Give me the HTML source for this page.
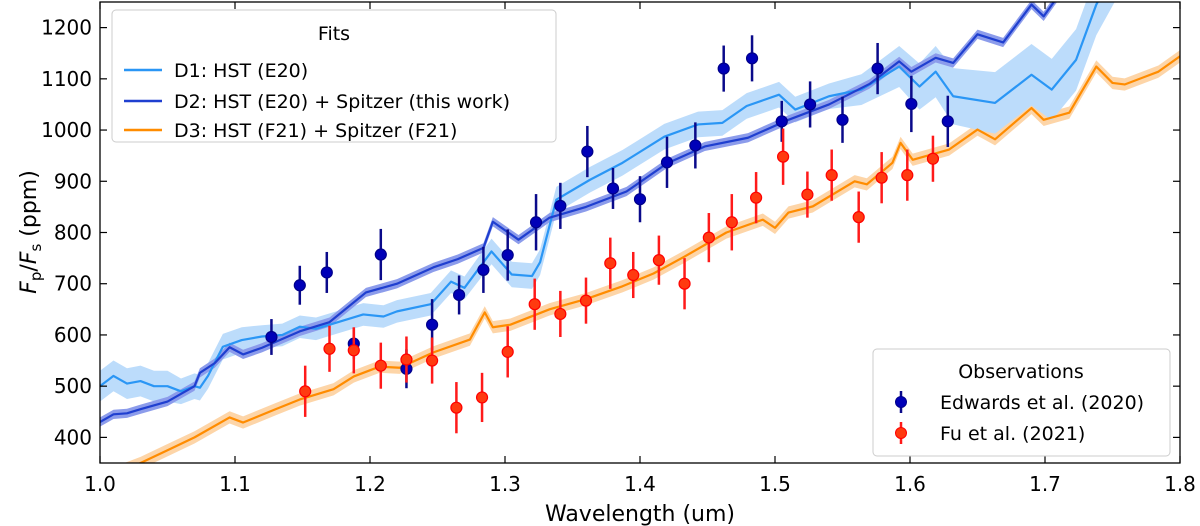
<!DOCTYPE html>
<html><head><meta charset="utf-8"><style>
html,body{margin:0;padding:0;background:#fff;}
svg{display:block;font-family:"DejaVu Sans","Liberation Sans",sans-serif;}
</style></head><body>
<svg id="chart" width="1200" height="526" viewBox="0 0 1200 526">
<g id="bands"></g><g id="lines"></g><g id="points"></g><g id="axes"></g><g id="legends"></g>
</svg>
<script>
const d1X=[1.0,1.01,1.02,1.03,1.04,1.05,1.06,1.07,1.074,1.08,1.091,1.105,1.12,1.135,1.148,1.16,1.175,1.195,1.21,1.22,1.245,1.26,1.27,1.29,1.305,1.32,1.326,1.338,1.363,1.387,1.418,1.443,1.461,1.479,1.503,1.515,1.540,1.564,1.592,1.607,1.619,1.632,1.663,1.690,1.705,1.723,1.738,1.76];
const d1Y=[500,520,505,510,500,500,490,500,497,520,577,590,597,600,616,612,624,640,636,646,660,704,692,763,718,715,742,864,903,936,987,1011,1014,1047,1069,1040,1066,1079,1124,1085,1114,1066,1053,1108,1079,1137,1245,1350];
const d2X=[1.0,1.01,1.02,1.03,1.05,1.07,1.074,1.085,1.096,1.106,1.12,1.148,1.17,1.197,1.22,1.247,1.265,1.284,1.291,1.31,1.333,1.36,1.39,1.42,1.448,1.48,1.510,1.54,1.57,1.592,1.601,1.619,1.632,1.650,1.669,1.690,1.699,1.72];
const d2Y=[430,445,447,455,470,500,526,545,576,562,575,607,625,683,700,732,748,770,821,786,829,850,880,935,968,985,1020,1050,1090,1134,1114,1141,1131,1187,1171,1245,1222,1300];
const d3X=[1.0,1.03,1.05,1.07,1.096,1.106,1.13,1.148,1.173,1.188,1.207,1.222,1.247,1.274,1.285,1.291,1.304,1.333,1.36,1.387,1.41,1.433,1.464,1.491,1.500,1.510,1.528,1.559,1.568,1.587,1.593,1.602,1.629,1.650,1.663,1.690,1.699,1.718,1.738,1.750,1.759,1.784,1.80];
const d3Y=[320,350,375,400,439,429,455,474,494,519,538,536,566,591,644,615,620,650,670,695,720,753,800,825,809,839,851,900,894,936,975,942,962,1001,982,1043,1020,1034,1124,1092,1089,1114,1144];
const d1Err=[30,30,30,30,30,30,25,25,25,25,25,25,22,22,22,22,22,22,22,22,22,22,22,25,25,25,25,25,25,25,25,25,25,25,25,25,25,30,40,45,50,55,60,60,60,60,60,60];
const e20X=[1.127,1.148,1.168,1.188,1.208,1.227,1.246,1.266,1.284,1.302,1.323,1.341,1.361,1.380,1.400,1.420,1.441,1.462,1.483,1.505,1.526,1.550,1.576,1.601,1.628];
const e20Y=[596,697,722,583,757,534,620,678,727,756,820,852,958,886,865,937,970,1120,1140,1017,1050,1020,1120,1051,1017];
const e20Err=[35,38,40,30,50,38,50,38,45,50,55,45,50,40,45,50,45,45,45,40,45,45,50,55,50];
const f21X=[1.152,1.170,1.188,1.208,1.227,1.246,1.264,1.283,1.302,1.322,1.341,1.360,1.378,1.395,1.414,1.433,1.451,1.468,1.486,1.506,1.524,1.542,1.562,1.579,1.598,1.617];
const f21Y=[490,573,570,540,552,550,458,478,567,660,641,667,740,717,746,700,790,820,868,948,874,912,830,907,912,944];
const f21Err=[50,45,45,45,45,45,50,48,50,50,45,45,50,45,48,50,48,55,50,55,45,50,50,50,50,45];
const xTicks=[1.0,1.1,1.2,1.3,1.4,1.5,1.6,1.7,1.8];
const yTicks=[400,500,600,700,800,900,1000,1100,1200];

const L=100,R=1180,T=2,B=463;
const sx=v=>L+(v-1.0)/0.8*(R-L);
const sy=v=>B-(v-350)/900*(B-T);
const NS='http://www.w3.org/2000/svg';
function mk(tag,parent,attrs){const e=document.createElementNS(NS,tag);for(const k in attrs)e.setAttribute(k,attrs[k]);parent.appendChild(e);return e;}
const svg=document.getElementById('chart');
const defs=mk('defs',svg,{});const cp=mk('clipPath',defs,{id:'clip'});mk('rect',cp,{x:L,y:T,width:R-L,height:B-T});
const bands=document.getElementById('bands'),lines=document.getElementById('lines'),pts=document.getElementById('points'),axes=document.getElementById('axes'),leg=document.getElementById('legends');
[bands,lines,pts].forEach(g=>g.setAttribute('clip-path','url(#clip)'));

function band(xs,ys,err,fill,name){
  let up=xs.map((x,i)=>sx(x)+','+sy(ys[i]+(typeof err==='number'?err:err[i])));
  let dn=xs.map((x,i)=>sx(x)+','+sy(ys[i]-(typeof err==='number'?err:err[i]))).reverse();
  const p=mk('polygon',bands,{points:up.concat(dn).join(' '),fill:fill});
  
  
}
function line(xs,ys,col,name){
  const p=mk('polyline',lines,{points:xs.map((x,i)=>sx(x)+','+sy(ys[i])).join(' '),fill:'none',stroke:col,'stroke-width':2.2,'stroke-linejoin':'round'});
  
  
}
band(d3X,d3Y,12,'#fdd5a8','d3-band');
band(d1X,d1Y,d1Err,'#bcdcfb','d1-band');
band(d2X,d2Y,9,'#8c9ceb','d2-band');
line(d3X,d3Y,'#ff8c00','d3-line');
line(d1X,d1Y,'#2a96f5','d1-line');
line(d2X,d2Y,'#1f3fd0','d2-line');

function points(xs,ys,es,fill,edge,ecol,name){
  xs.forEach((x,i)=>{
    const g=mk('g',pts,{});
    
    
    mk('line',g,{x1:sx(x),x2:sx(x),y1:sy(ys[i]-es[i]),y2:sy(ys[i]+es[i]),stroke:ecol,'stroke-width':2.5});
    mk('circle',g,{cx:sx(x),cy:sy(ys[i]),r:5.5,fill:fill,stroke:edge,'stroke-width':1.2});
  });
}
points(e20X,e20Y,e20Err,'#0000b8','#00008b','#0a0a8a','edwards-point');
points(f21X,f21Y,f21Err,'#ff3a10','#ff0000','#ff1a1a','fu-point');

mk('rect',axes,{x:L,y:T,width:R-L,height:B-T,fill:'none',stroke:'#000','stroke-width':1.3});
xTicks.forEach(v=>{
  const x=sx(v);
  mk('line',axes,{x1:x,x2:x,y1:B,y2:B-7,stroke:'#000','stroke-width':1.2});
  mk('line',axes,{x1:x,x2:x,y1:T,y2:T+7,stroke:'#000','stroke-width':1.2});
  const t=mk('text',axes,{x:x,y:491,'font-size':20,'text-anchor':'middle',fill:'#000'});t.textContent=v.toFixed(1);
  
  
});
yTicks.forEach(v=>{
  const y=sy(v);
  mk('line',axes,{x1:L,x2:L+7,y1:y,y2:y,stroke:'#000','stroke-width':1.2});
  mk('line',axes,{x1:R,x2:R-7,y1:y,y2:y,stroke:'#000','stroke-width':1.2});
  const t=mk('text',axes,{x:92,y:y+7,'font-size':20,'text-anchor':'end',fill:'#000'});t.textContent=v;
  
  
});
</script>
<div style="position:absolute;left:0;top:0;width:1200px;height:526px;pointer-events:none">
<svg width="1200" height="526" style="position:absolute;left:0;top:0">
<text x="640" y="521" font-size="22" text-anchor="middle">Wavelength (um)</text>
<text transform="translate(36,232) rotate(-90)" font-size="22" text-anchor="middle"><tspan font-style="italic">F</tspan><tspan font-size="15" dy="5">p</tspan><tspan dy="-5">/</tspan><tspan font-style="italic">F</tspan><tspan font-size="15" dy="5">s</tspan><tspan dy="-5"> (ppm)</tspan></text>
<g>
<rect x="112" y="10" width="444" height="132" rx="4" fill="#fff" fill-opacity="0.85" stroke="#ccc"/>
<text x="334" y="40" font-size="19" text-anchor="middle">Fits</text>
<line x1="124" y1="70" x2="162" y2="70" stroke="#2a96f5" stroke-width="2.5"/>
<text x="174" y="77" font-size="19">D1: HST (E20)</text>
<line x1="124" y1="101" x2="162" y2="101" stroke="#1f3fd0" stroke-width="2.5"/>
<text x="174" y="108" font-size="19">D2: HST (E20) + Spitzer (this work)</text>
<line x1="124" y1="130" x2="162" y2="130" stroke="#ff8c00" stroke-width="2.5"/>
<text x="174" y="137" font-size="19">D3: HST (F21) + Spitzer (F21)</text>
</g>
<g>
<rect x="873" y="349" width="297" height="107" rx="4" fill="#fff" fill-opacity="0.85" stroke="#ccc"/>
<text x="1021" y="378" font-size="19" text-anchor="middle">Observations</text>
<line x1="901" y1="391" x2="901" y2="413" stroke="#0a0a8a" stroke-width="2.5"/>
<circle cx="901" cy="402" r="5.5" fill="#0000b8" stroke="#00008b"/>
<text x="940" y="409" font-size="19">Edwards et al. (2020)</text>
<line x1="901" y1="422" x2="901" y2="444" stroke="#ff1a1a" stroke-width="2.5"/>
<circle cx="901" cy="433" r="5.5" fill="#ff3a10" stroke="#ff0000"/>
<text x="940" y="440" font-size="19">Fu et al. (2021)</text>
</g>
</svg></div>
</body></html>
